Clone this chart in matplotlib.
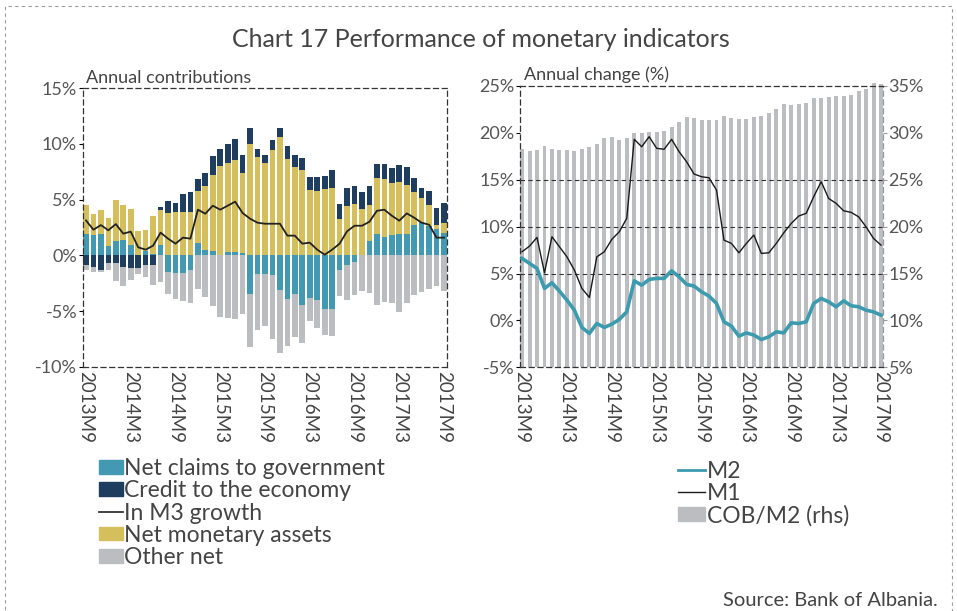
import matplotlib
matplotlib.use("Agg")
import matplotlib.pyplot as plt
import matplotlib.patches as mpatches
import matplotlib.lines as mlines
import numpy as np

plt.rcParams['font.family'] = ['Lato', 'DejaVu Sans']
TXT = '#444444'

# monthly, 2013M9 .. 2017M9
months = ['2013M9', '2014M3', '2014M9', '2015M3', '2015M9',
          '2016M3', '2016M9', '2017M3', '2017M9']

# annual contributions to M3 growth (pp)
net_claims_gov = [1.95, 1.86, 1.95, 0.87, 1.32, 1.41, 0.96, 0.0, 0.4, 0.1,
                  0.96, -1.47, -1.56, -1.56, -1.29, 1.14, 0.51, 0.42, 0.05, 0.33,
                  0.33, 0.18, -3.44, -1.65, -1.65, -1.74, -3.08, -3.89, -3.44, -4.43,
                  -3.8, -3.98, -4.79, -4.79, -1.29, -0.84, -0.57, 0.0, 1.32, 1.95,
                  1.68, 1.86, 1.95, 1.95, 2.75, 3.02, 2.66, 2.4, 2.04]
credit_economy = [-0.9, -1.08, -1.29, -0.66, -0.66, -1.02, -1.11, -1.11, -0.9, -0.85,
                  0.27, 1.08, 0.81, 1.62, 1.8, 1.08, 1.17, 1.71, 1.53, 1.71,
                  1.89, 1.62, 1.44, 0.72, 0.72, 0.9, 0.81, 1.17, 1.08, 1.08,
                  1.17, 1.26, 1.17, 1.62, 1.35, 1.62, 1.62, 1.53, 1.71, 1.26,
                  1.35, 1.35, 1.53, 1.62, 1.26, 0.9, 1.26, 1.53, 1.8]
net_monetary = [2.6, 1.89, 2.16, 2.51, 3.68, 3.14, 3.23, 2.2, 1.89, 3.4,
                3.14, 3.83, 3.92, 3.92, 3.92, 4.67, 5.75, 6.83, 7.96, 8.0,
                8.26, 7.25, 10.03, 8.86, 8.32, 9.49, 10.66, 8.68, 7.96, 7.69,
                5.9, 5.81, 5.99, 6.08, 3.29, 4.46, 4.64, 4.19, 3.23, 5.03,
                5.21, 4.67, 4.67, 4.4, 2.96, 2.16, 1.89, 0.36, 0.9]
other_net = [-0.45, -0.45, -0.18, -0.63, -1.62, -1.71, -1.08, -0.54, -1.0, -1.8,
             -2.37, -1.98, -2.34, -2.51, -2.96, -2.99, -3.7, -4.52, -5.5, -5.6,
             -5.7, -5.24, -4.76, -5.03, -4.67, -5.75, -5.66, -4.22, -3.86, -3.41,
             -2.07, -2.51, -2.34, -2.43, -2.34, -3.14, -2.96, -3.17, -3.35, -4.43,
             -4.16, -4.25, -5.06, -4.25, -3.53, -3.26, -2.99, -2.72, -3.17]
m3_growth = [3.14, 2.3, 2.72, 2.25, 2.81, 1.95, 2.13, 0.72, 0.51, 0.87,
             2.04, 1.5, 1.05, 1.59, 1.5, 4.1, 3.74, 4.46, 4.1, 4.46,
             4.82, 3.8, 3.29, 2.93, 2.84, 2.84, 2.84, 1.77, 1.77, 1.05,
             1.14, 0.51, 0.06, 0.51, 1.05, 2.16, 2.66, 2.66, 3.02, 4.0,
             4.1, 3.56, 3.11, 3.77, 3.38, 2.93, 2.75, 1.59, 1.59]

# annual change of M1, M2 (%) and COB/M2 ratio (%, rhs)
m2 = [6.61, 6.08, 5.54, 3.41, 4.01, 3.12, 2.16, 1.09, -0.75, -1.39,
      -0.33, -0.75, -0.4, 0.1, 0.91, 4.22, 3.76, 4.37, 4.48, 4.48,
      5.29, 4.65, 3.84, 3.66, 3.05, 2.59, 1.81, -0.15, -0.61, -1.68,
      -1.33, -1.57, -2.04, -1.75, -1.22, -1.33, -0.26, -0.33, -0.15, 1.81,
      2.34, 1.98, 1.45, 2.09, 1.56, 1.45, 1.09, 0.91, 0.56]
m1 = [7.32, 7.92, 8.85, 5.08, 8.92, 7.85, 6.78, 5.36, 3.41, 2.45,
      6.78, 7.32, 8.64, 9.45, 10.88, 19.31, 18.52, 19.59, 18.35, 18.25,
      19.31, 17.99, 16.92, 15.61, 15.32, 15.21, 13.9, 8.56, 8.21, 7.21,
      8.21, 9.1, 7.14, 7.21, 8.21, 9.34, 10.34, 11.13, 11.42, 13.19,
      14.79, 13.0, 12.48, 11.69, 11.52, 11.05, 9.98, 8.74, 8.03]
cob_m2 = [28.28, 28.06, 28.17, 28.6, 28.28, 28.17, 28.17, 28.1, 28.28, 28.5,
          28.81, 29.48, 29.55, 29.23, 29.4, 30.02, 30.0, 30.1, 30.1, 30.2,
          30.6, 31.16, 31.66, 31.55, 31.4, 31.4, 31.35, 31.8, 31.55, 31.5,
          31.5, 31.65, 31.8, 32.08, 32.5, 33.04, 33.0, 33.1, 33.2, 33.76,
          33.74, 33.8, 33.9, 33.9, 34.0, 34.47, 34.68, 35.35, 35.2]

C_TEAL = '#4299b1'
C_NAVY = '#1f3d5e'
C_YELL = '#d5bf5d'
C_GRAY = '#bcbdc1'

n = len(m3_growth)
x = np.arange(n)
tick_pos = np.arange(0, n, 6)

fig = plt.figure(figsize=(9.57, 6.11), dpi=100)

# outer dashed frame
fig.patches.append(mpatches.Rectangle((5 / 957, -0.05), 947 / 957, 1.04,
                                      transform=fig.transFigure, fill=False,
                                      ec='#9a9a9a', lw=0.8, ls=(0, (3, 3))))

fig.text(0.503, 0.935, 'Chart 17 Performance of monetary indicators',
         ha='center', va='center', fontsize=18, color=TXT)

# ---- left panel: stacked contributions
ax1 = fig.add_axes([0.0864, 0.3998, 0.3804, 0.4557])
pos = np.zeros(n)
neg = np.zeros(n)
for vals, col in [(net_claims_gov, C_TEAL), (net_monetary, C_YELL),
                  (credit_economy, C_NAVY), (other_net, C_GRAY)]:
    v = np.array(vals)
    bottom = np.where(v >= 0, pos, neg)
    ax1.bar(x, v, width=0.76, bottom=bottom, color=col, lw=0)
    pos = pos + np.clip(v, 0, None)
    neg = neg + np.clip(v, None, 0)
ax1.plot(x, m3_growth, color='#222222', lw=1.3)
ax1.set_xlim(-0.44, 48.36)
ax1.set_ylim(-10, 15)
ax1.set_yticks(range(-10, 16, 5))
ax1.set_yticklabels([f'{v}%' for v in range(-10, 16, 5)])
ax1.text(0.01, 1.01, 'Annual contributions', transform=ax1.transAxes,
         fontsize=13, color=TXT, va='bottom')

# ---- right panel: M1, M2 and COB/M2
ax2 = fig.add_axes([0.5434, 0.3989, 0.3793, 0.4604])
ax3 = ax2.twinx()
ax3.bar(x, np.array(cob_m2) - 5, bottom=5, width=0.53, color=C_GRAY, lw=0,
        clip_on=False)
ax3.set_ylim(5, 35)
ax3.set_yticks(range(5, 36, 5))
ax3.set_yticklabels([f'{v}%' for v in range(5, 36, 5)])
ax2.set_zorder(ax3.get_zorder() + 1)
ax2.patch.set_visible(False)
for lev in [5, 10, 15]:
    ax2.axhline(lev, color='#333333', lw=0.8, ls=(0, (4, 3)), zorder=1)
ax2.plot(x, m1, color='#1a1a1a', lw=1.0, zorder=3)
ax2.plot(x, m2, color='#3d9bb0', lw=2.6, zorder=3)
ax2.set_xlim(-0.27, 48.27)
ax2.set_ylim(-5, 25)
ax2.set_yticks(range(-5, 26, 5))
ax2.set_yticklabels([f'{v}%' for v in range(-5, 26, 5)])
ax2.text(0.01, 1.01, 'Annual change (%)', transform=ax2.transAxes,
         fontsize=13, color=TXT, va='bottom')

for ax in (ax1, ax2):
    ax.set_xticks(tick_pos)
    ax.set_xticklabels(months, rotation=270, fontsize=13.5, color=TXT)
    ax.tick_params(axis='x', length=0, pad=3)
    ax.tick_params(axis='y', labelsize=13, labelcolor='#555555', length=3,
                   width=0.8, pad=1)
    for s in ax.spines.values():
        s.set_linestyle((0, (4, 3)))
        s.set_color('#333333')
        s.set_linewidth(0.9)
ax3.tick_params(axis='y', labelsize=13, labelcolor='#555555', length=3,
                width=0.8, color='#999999', pad=1)
for s in ax3.spines.values():
    s.set_visible(False)
ax2.spines['right'].set_color('#999999')

# legends
h_left = [mpatches.Patch(color=C_TEAL), mpatches.Patch(color=C_NAVY),
          mlines.Line2D([], [], color='#222222', lw=1.2),
          mpatches.Patch(color=C_YELL), mpatches.Patch(color=C_GRAY)]
l_left = ['Net claims to government', 'Credit to the economy', 'In M3 growth',
          'Net monetary assets', 'Other net']
fig.legend(h_left, l_left, loc='upper left', bbox_to_anchor=(0.103, 0.25),
           frameon=False, fontsize=16.5, handlelength=1.05, handleheight=0.55,
           handletextpad=0.08, labelspacing=0.05, borderpad=0,
           borderaxespad=0, labelcolor=TXT)

h_right = [mlines.Line2D([], [], color='#3d9bb0', lw=2),
           mlines.Line2D([], [], color='#1a1a1a', lw=1),
           mpatches.Patch(color=C_GRAY)]
fig.legend(h_right, ['M2', 'M1', 'COB/M2 (rhs)'], loc='upper left',
           bbox_to_anchor=(0.708, 0.246), frameon=False, fontsize=16.5,
           handlelength=1.2, handleheight=0.55, handletextpad=0.08,
           labelspacing=0.05, borderpad=0, borderaxespad=0, labelcolor=TXT)

fig.text(0.98, 0.018, 'Source: Bank of Albania.', ha='right', va='center',
         fontsize=14.5, color=TXT)

fig.savefig('out.png', dpi=100)
